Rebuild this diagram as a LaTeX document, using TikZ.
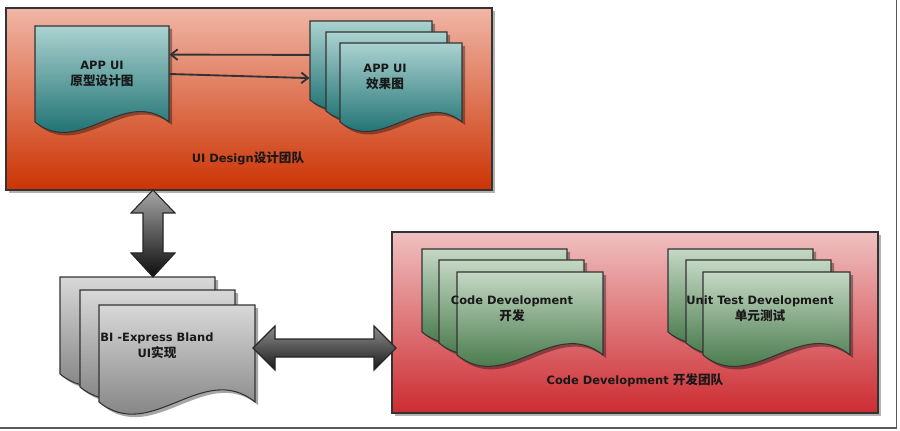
\documentclass[tikz,border=0pt]{standalone}
\usepackage{fontspec}
\setmainfont{DejaVu Sans}
\newfontfamily\cjk{Noto Sans CJK SC Bold}[Scale=1.1]
\usetikzlibrary{calc,fit,arrows.meta}

\definecolor{uitop}{RGB}{240,182,166}
\definecolor{uibot}{RGB}{204,52,4}
\definecolor{codetop}{RGB}{240,192,192}
\definecolor{codebot}{RGB}{204,44,50}
\definecolor{tealtop}{RGB}{170,210,208}
\definecolor{tealbot}{RGB}{0,92,94}
\definecolor{greentop}{RGB}{196,216,196}
\definecolor{greenbot}{RGB}{38,96,42}
\definecolor{graytop}{RGB}{216,216,216}
\definecolor{graybot}{RGB}{112,112,112}

\tikzset{every picture/.style={line width=0.75pt}}
\tikzset{
  sheet/.style={draw=black!80, line width=0.8pt},
  tealsheet/.style={sheet, top color=tealtop, bottom color=tealbot},
  greensheet/.style={sheet, top color=greentop, bottom color=greenbot},
  graysheet/.style={sheet, top color=graytop, bottom color=graybot},
  sheetshadow/.style={fill=black, fill opacity=0.35},
  boxshadow/.style={fill=black, fill opacity=0.3},
  teambox/.style={draw=black!80, line width=0.9pt},
  doclabel/.style={font=\bfseries\fontsize{8.6}{12}\selectfont, align=center, text=black!90},
  flow/.style={draw=black!80, line width=1.4pt, -{Straight Barb[length=5pt,width=8pt]}},
  bigarrow/.style={draw=black!85, line width=0.8pt},
}

% document sheet with wavy bottom: name, x, y, width, height, style
\newcommand{\docsheet}[6]{%
  \fill[sheetshadow, shift={(3,3)}] (#2,#3) -- ({#2+#4},#3) -- ({#2+#4},{#3+#5})
    .. controls ({#2+2*#4/3},{#3+#5-0.27*#4}) and ({#2+#4/3},{#3+#5+0.27*#4}) .. (#2,{#3+#5}) -- cycle;
  \draw[#6] (#2,#3) -- ({#2+#4},#3) -- ({#2+#4},{#3+#5})
    .. controls ({#2+2*#4/3},{#3+#5-0.27*#4}) and ({#2+#4/3},{#3+#5+0.27*#4}) .. (#2,{#3+#5}) -- cycle;
  \path (#2,#3) coordinate (#1-nw) ({#2+#4},{#3+#5}) coordinate (#1-se);
  \node[inner sep=0pt, fit=(#1-nw)(#1-se)] (#1) {};
}

\begin{document}
\begin{tikzpicture}[x=0.75pt,y=0.75pt,yscale=-1,xscale=1]
\useasboundingbox (0,0) rectangle (900,431);

% frame
\draw[black!65, line width=1.3pt] (0,428) -- (896.5,428) -- (896.5,0);

% UI design team
\fill[boxshadow] (9,11) rectangle (495,193);
\draw[teambox, top color=uitop, bottom color=uibot] (6,8) rectangle (492,190);
\node[doclabel] (uiteam) at (248,158) {UI Design{\cjk 设计团队}};

\docsheet{proto}{35}{26}{134}{96}{tealsheet}
\node[doclabel] (protolabel) at (102,74) {APP UI\\{\cjk 原型设计图}};

\docsheet{effect1}{310}{21}{122}{79}{tealsheet}
\docsheet{effect2}{326}{32}{121}{79}{tealsheet}
\docsheet{effect3}{340}{43}{122}{79}{tealsheet}
\node[doclabel] (effectlabel) at (385,77) {APP UI\\{\cjk 效果图}};

\draw[flow] ($(effect1.north west)!0.43!(effect1.south west)$) -- ($(proto.north east)!0.3!(proto.south east)$);
\draw[flow] (proto.east) -- ($(effect1.north west)!0.72!(effect1.south west)$);

% code development team
\fill[boxshadow] (395,235) rectangle (881,416);
\draw[teambox, top color=codetop, bottom color=codebot] (392,232) rectangle (878,413);
\node[doclabel] (codeteam) at (635,380) {Code Development {\cjk 开发团队}};

\docsheet{code1}{422}{249}{145}{83}{greensheet}
\docsheet{code2}{439}{260}{145}{83}{greensheet}
\docsheet{code3}{457}{272}{146}{83}{greensheet}
\node[doclabel] (codelabel) at (512,309) {Code Development\\{\cjk 开发}};

\docsheet{unit1}{668}{249}{145}{83}{greensheet}
\docsheet{unit2}{686}{260}{145}{83}{greensheet}
\docsheet{unit3}{703}{272}{147}{83}{greensheet}
\node[doclabel] (unitlabel) at (760,309) {Unit Test Development\\{\cjk 单元测试}};

% BI express
\docsheet{bi1}{60}{277}{155}{97}{graysheet}
\docsheet{bi2}{80}{290}{155}{97}{graysheet}
\docsheet{bi3}{99}{305}{156}{97}{graysheet}
\node[doclabel] (bilabel) at (157,346) {BI -Express Bland\\UI{\cjk 实现}};

% big arrows
\coordinate (vt) at (153,190);
\coordinate (hl) at (253,348);
\fill[boxshadow, shift={(3,3)}] (vt) -- ++(22,23) -- ++(-12,0) -- ++(0,40) -- ++(12,0) -- ++(-22,24)
  -- ++(-22,-24) -- ++(12,0) -- ++(0,-40) -- ++(-12,0) -- cycle;
\draw[bigarrow, top color=black!35, bottom color=black!95] (vt) -- ++(22,23) -- ++(-12,0) -- ++(0,40) -- ++(12,0) -- ++(-22,24)
  -- ++(-22,-24) -- ++(12,0) -- ++(0,-40) -- ++(-12,0) -- cycle;
\fill[boxshadow, shift={(3,3)}] (hl) -- ++(22,-22) -- ++(0,13) -- ++(99,0) -- ++(0,-13) -- ++(22,22)
  -- ++(-22,22) -- ++(0,-13) -- ++(-99,0) -- ++(0,13) -- cycle;
\draw[bigarrow, top color=black!45, bottom color=black!90] (hl) -- ++(22,-22) -- ++(0,13) -- ++(99,0) -- ++(0,-13) -- ++(22,22)
  -- ++(-22,22) -- ++(0,-13) -- ++(-99,0) -- ++(0,13) -- cycle;

\end{tikzpicture}
\end{document}
